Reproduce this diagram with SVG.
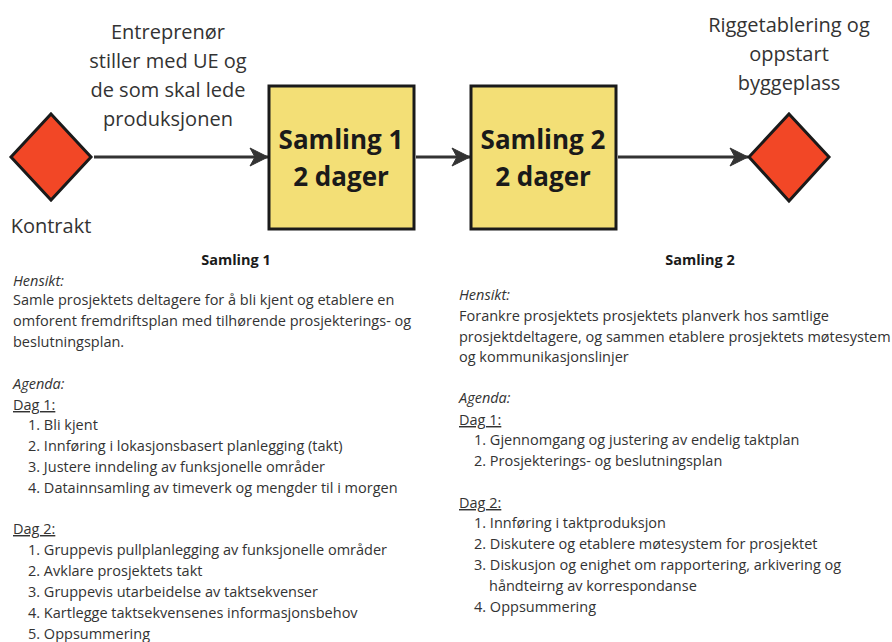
<svg xmlns="http://www.w3.org/2000/svg" width="892" height="642" viewBox="0 0 892 642">
<style>
.lbl{font-family:"Open Sans","Noto Sans",sans-serif;font-size:20px;fill:#333;text-anchor:middle}
.big{font-family:"Open Sans","Noto Sans",sans-serif;font-size:26px;font-weight:bold;fill:#1a1a1a;text-anchor:middle}
.t{font-family:"Open Sans","Noto Sans",sans-serif;font-size:14.5px;fill:#333}
.h{font-family:"Open Sans","Noto Sans",sans-serif;font-size:14.5px;font-weight:bold;fill:#1a1a1a;text-anchor:middle}
.i{font-style:italic}
.u{text-decoration:underline}
.dia{fill:#F24726;stroke:#1a1a1a;stroke-width:3}
.box{fill:#F3DF76;stroke:#1a1a1a;stroke-width:3}
.con{stroke:#333;stroke-width:3;fill:none}
</style>
<defs>
<marker id="ah" viewBox="0 0 20 20" refX="19" refY="10" markerWidth="20" markerHeight="20" markerUnits="userSpaceOnUse" orient="auto">
<path d="M1,1 L19,10 L1,19 L6,10 Z" fill="#333" stroke="#333" stroke-width="1" stroke-linejoin="round"/>
</marker>
</defs>
<g id="connectors">
<line class="con" x1="94" y1="157" x2="268" y2="157" marker-end="url(#ah)"/>
<line class="con" x1="416" y1="157" x2="470" y2="157" marker-end="url(#ah)"/>
<line class="con" x1="618" y1="157" x2="748" y2="157" marker-end="url(#ah)"/>
</g>
<g id="kontrakt">
<polygon class="dia" points="51,114 91,157 51,200 11,157"/>
<text class="lbl" x="51" y="233">Kontrakt</text>
</g>
<g id="entreprenor-label">
<text class="lbl" x="168" y="39">Entreprenør</text>
<text class="lbl" x="168" y="68">stiller med UE og</text>
<text class="lbl" x="168" y="97">de som skal lede</text>
<text class="lbl" x="168" y="126">produksjonen</text>
</g>
<g id="samling1">
<rect class="box" x="269" y="86" width="145" height="143"/>
<text class="big" x="341" y="149">Samling 1</text>
<text class="big" x="341" y="186">2 dager</text>
</g>
<g id="samling2">
<rect class="box" x="471" y="86" width="145" height="143"/>
<text class="big" x="543" y="149">Samling 2</text>
<text class="big" x="543" y="186">2 dager</text>
</g>
<g id="oppstart">
<polygon class="dia" points="789,114 829,157 789,201 749,157"/>
<text class="lbl" x="789" y="32">Riggetablering og</text>
<text class="lbl" x="789" y="61">oppstart</text>
<text class="lbl" x="789" y="90">byggeplass</text>
</g>
<g id="samling1-text">
<text class="h" x="236" y="265">Samling 1</text>
<text class="t i" x="13" y="286">Hensikt:</text>
<text class="t" x="13" y="305">Samle prosjektets deltagere for å bli kjent og etablere en</text>
<text class="t" x="13" y="326">omforent fremdriftsplan med tilhørende prosjekterings- og</text>
<text class="t" x="13" y="347">beslutningsplan.</text>
<text class="t i" x="13" y="389">Agenda:</text>
<text class="t u" x="13" y="410">Dag 1:</text>
<text class="t" x="28" y="430">1. Bli kjent</text>
<text class="t" x="28" y="451">2. Innføring i lokasjonsbasert planlegging (takt)</text>
<text class="t" x="28" y="472">3. Justere inndeling av funksjonelle områder</text>
<text class="t" x="28" y="493">4. Datainnsamling av timeverk og mengder til i morgen</text>
<text class="t u" x="13" y="534">Dag 2:</text>
<text class="t" x="28" y="555">1. Gruppevis pullplanlegging av funksjonelle områder</text>
<text class="t" x="28" y="576">2. Avklare prosjektets takt</text>
<text class="t" x="28" y="597">3. Gruppevis utarbeidelse av taktsekvenser</text>
<text class="t" x="28" y="618">4. Kartlegge taktsekvensenes informasjonsbehov</text>
<text class="t" x="28" y="639">5. Oppsummering</text>
</g>
<g id="samling2-text">
<text class="h" x="700" y="265">Samling 2</text>
<text class="t i" x="459" y="300">Hensikt:</text>
<text class="t" x="459" y="321">Forankre prosjektets prosjektets planverk hos samtlige</text>
<text class="t" x="459" y="342">prosjektdeltagere, og sammen etablere prosjektets møtesystem</text>
<text class="t" x="459" y="362">og kommunikasjonslinjer</text>
<text class="t i" x="459" y="403">Agenda:</text>
<text class="t u" x="459" y="425">Dag 1:</text>
<text class="t" x="474" y="445">1. Gjennomgang og justering av endelig taktplan</text>
<text class="t" x="474" y="466">2. Prosjekterings- og beslutningsplan</text>
<text class="t u" x="459" y="508">Dag 2:</text>
<text class="t" x="474" y="528">1. Innføring i taktproduksjon</text>
<text class="t" x="474" y="549">2. Diskutere og etablere møtesystem for prosjektet</text>
<text class="t" x="474" y="570">3. Diskusjon og enighet om rapportering, arkivering og</text>
<text class="t" x="489" y="591">håndteirng av korrespondanse</text>
<text class="t" x="474" y="612">4. Oppsummering</text>
</g>
</svg>
